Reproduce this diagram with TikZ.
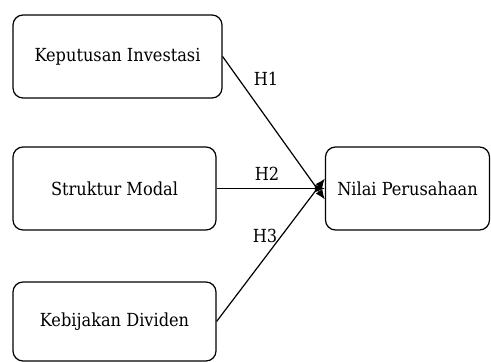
\documentclass[tikz,border=0pt]{standalone}
\usepackage{fontspec}
\setmainfont{DejaVu Serif Condensed}
\usetikzlibrary{arrows.meta}
\begin{document}
\begin{tikzpicture}[x=1pt,y=-1pt,
  box/.style={draw, line width=1.2pt, rounded corners=10pt, inner sep=0pt, font=\fontsize{18}{22}\selectfont},
  conn/.style={line width=1.2pt, -{Latex[length=10pt,width=8pt]}},
  lab/.style={font=\fontsize{18}{22}\selectfont, inner sep=0pt}]
\useasboundingbox (0,0) rectangle (491,362);
\node[box, minimum width=164pt, minimum height=83pt] (np) at (407.5,188.5) {Nilai Perusahaan};
\node[box, minimum width=209pt, minimum height=83pt] (ki) at (117.5,56.5) {Keputusan Investasi};
\node[box, minimum width=203pt, minimum height=83pt] (sm) at (114.5,188.5) {Struktur Modal};
\node[box, minimum width=203pt, minimum height=79pt] (kd) at (114.5,321.5) {Kebijakan Dividen};
\coordinate (t1) at ([yshift=-11pt]np.west);
\coordinate (t3) at ([yshift=10pt]np.west);
\draw[conn] (ki.east) -- (t1);
\draw[conn] (sm.east) -- (np.west);
\draw[conn] (kd.east) -- (t3);
\node[lab] (h1) at (266,79) {H1};
\node[lab] (h2) at (267,174) {H2};
\node[lab] (h3) at (265,236) {H3};
\end{tikzpicture}
\end{document}
